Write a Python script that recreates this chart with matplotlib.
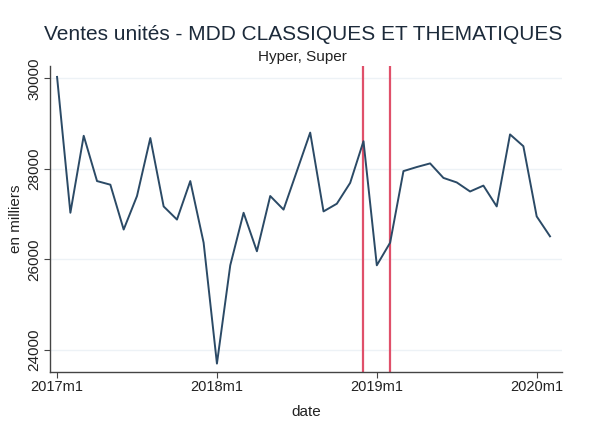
import numpy as np
import matplotlib.pyplot as plt

plt.rcParams['font.family'] = ['Liberation Sans', 'DejaVu Sans']

# monthly sales, 2017m1 .. 2020m2 (thousands)
ventes = [30030, 27030, 28730, 27730, 27650, 26660, 27400, 28680, 27170, 26880,
          27730, 26370, 23700, 25870, 27030, 26180, 27400, 27100, 27950, 28800,
          27060, 27230, 27690, 28610, 25870, 26370, 27950, 28040, 28120, 27800,
          27700, 27500, 27630, 27170, 28760, 28500, 26950, 26510]
tick_pos = [0, 12, 24, 36]
tick_labels = ['2017m1', '2018m1', '2019m1', '2020m1']
vlines = [23, 25]  # 2018m12, 2019m2
yticks = [24000, 26000, 28000, 30000]

months = np.arange(len(ventes))

fig = plt.figure(figsize=(5.9, 4.32), dpi=100)
ax = fig.add_axes([50/590, (432-372)/432, (562-50)/590, (372-66)/432])

for v in yticks:
    ax.axhline(v, color='#edf2f6', lw=1.0, zorder=0)

ax.plot(months, ventes, color='#2b4a66', lw=1.4, zorder=3)
for v in vlines:
    ax.axvline(v, color='#e0506a', lw=1.6, zorder=2)

ax.set_xlim(-0.53, 37.9)
ax.set_ylim(23514, 30271)
ax.set_xticks(tick_pos)
ax.set_xticklabels(tick_labels, fontsize=10.5, color='#222222')
ax.set_yticks(yticks)
ax.set_yticklabels([str(v) for v in yticks], fontsize=11, color='#222222',
                   rotation=90, va='center')
ax.tick_params(axis='both', length=4, width=0.8, color='#444444', pad=2)

for s in ['top', 'right']:
    ax.spines[s].set_visible(False)
for s in ['left', 'bottom']:
    ax.spines[s].set_color('#444444')
    ax.spines[s].set_linewidth(1.0)

ax.set_xlabel('date', fontsize=11, color='#222222', labelpad=8)
ax.set_ylabel('en milliers', fontsize=11, color='#222222', labelpad=3)

fig.text(303/590, 1 - 34/432, 'Ventes unités - MDD CLASSIQUES ET THEMATIQUES',
         ha='center', va='center', fontsize=15, color='#1c2a3a')
fig.text(302/590, 1 - 57/432, 'Hyper, Super', ha='center', va='center',
         fontsize=11, color='#222222')

fig.savefig('out.png', dpi=100, facecolor='white')
